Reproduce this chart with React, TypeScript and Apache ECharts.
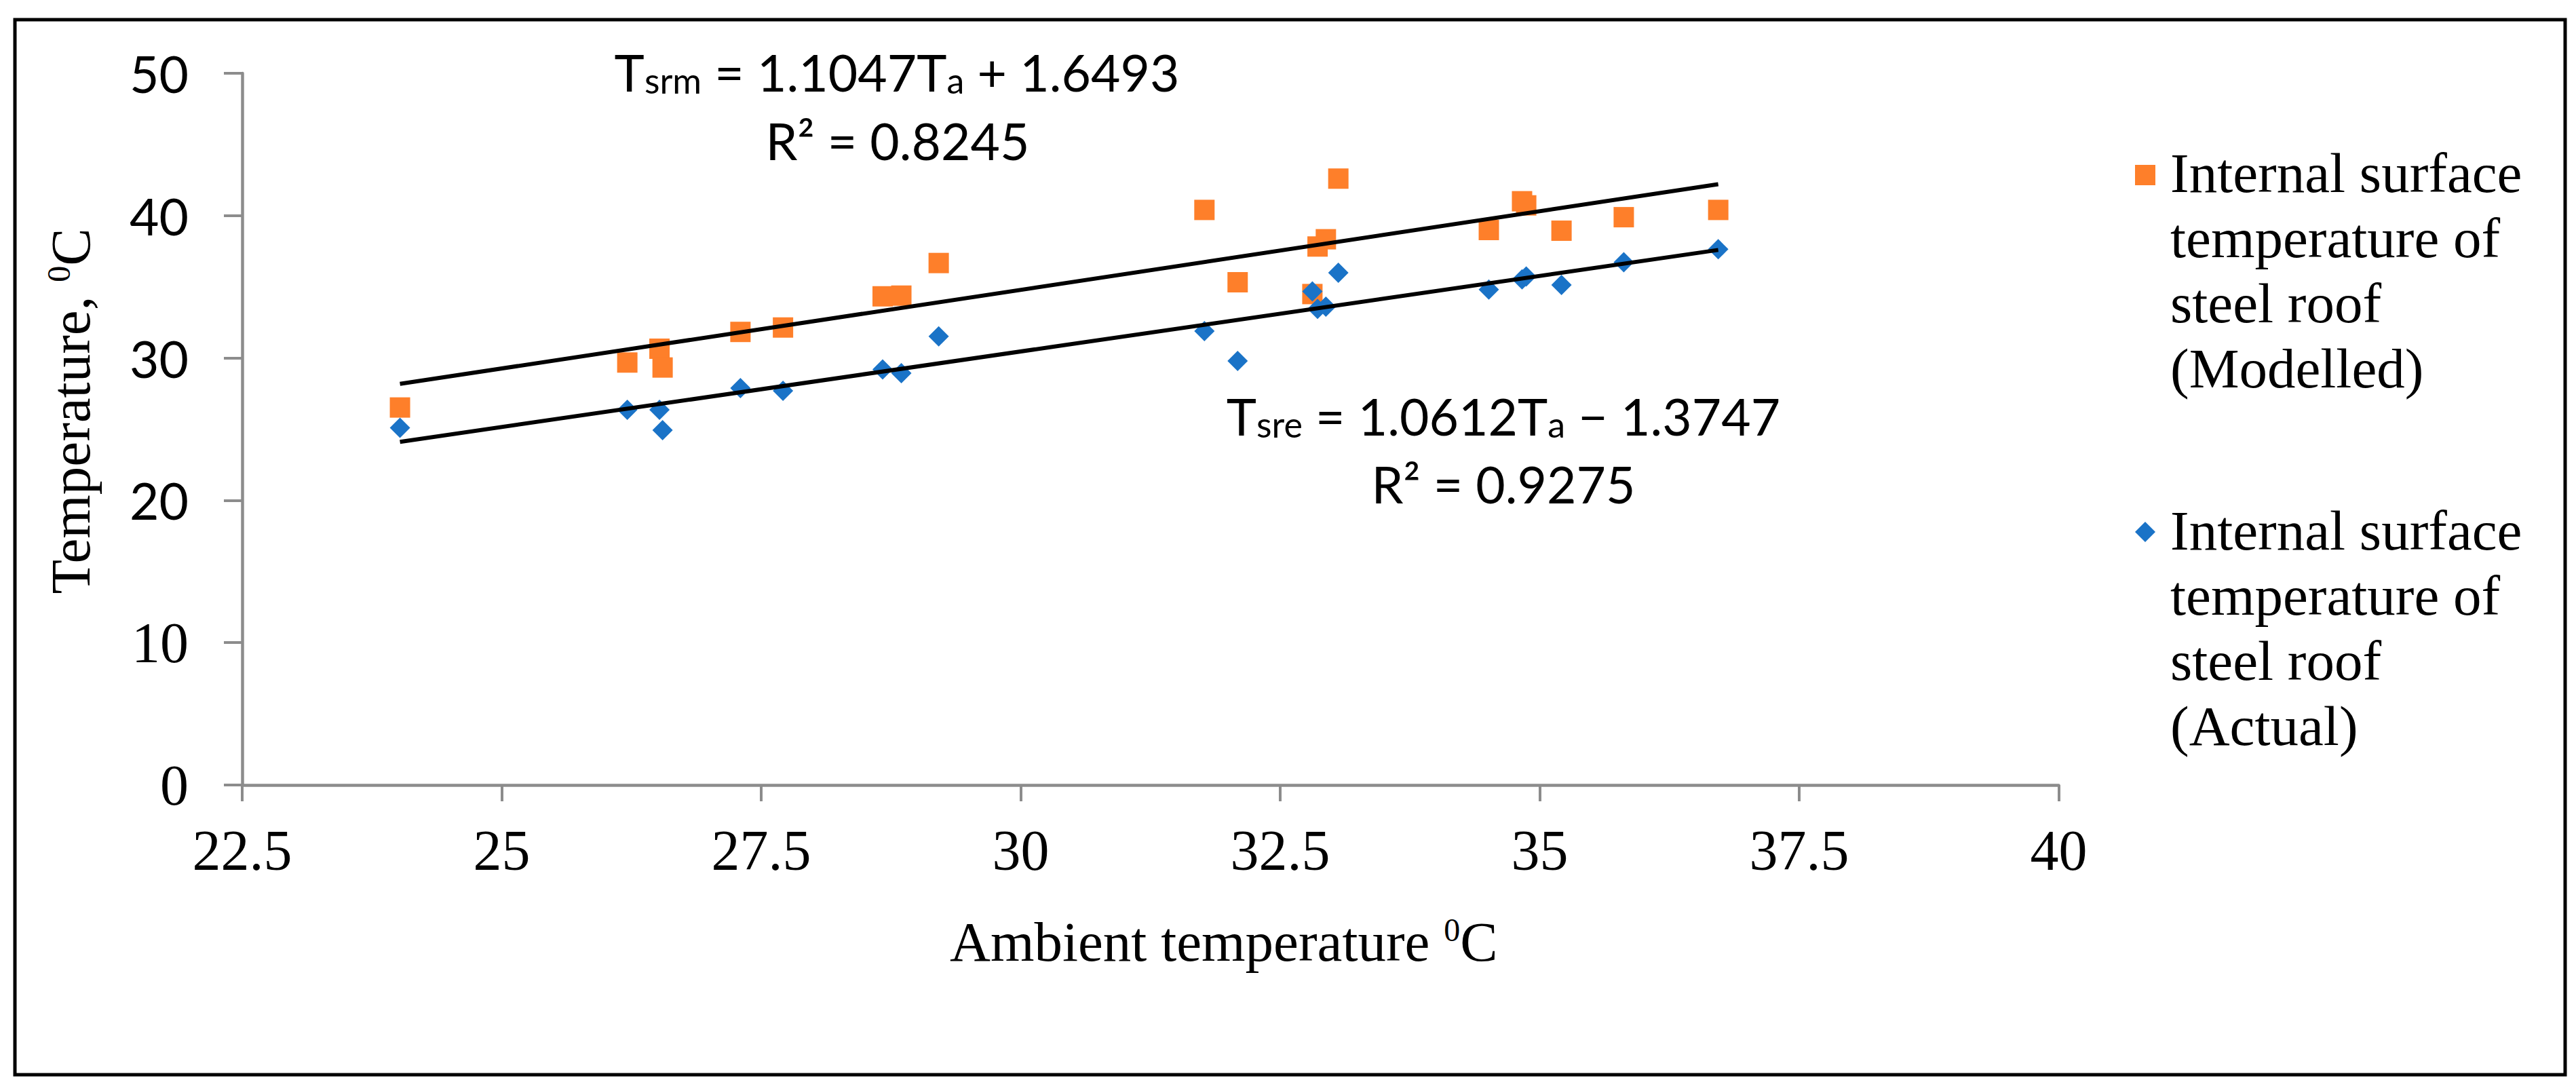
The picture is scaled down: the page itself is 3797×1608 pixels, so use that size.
import React, { useEffect, useRef } from "react";
import * as echarts from "echarts";

// Ambient temperature (x) shared by both series
const ambient = [
  24.02, 26.21, 26.52, 26.55, 27.3, 27.71, 28.67, 28.85, 29.21, 31.77, 32.09,
  32.81, 32.86, 32.94, 33.06, 34.51, 34.83, 34.87, 35.21, 35.81, 36.72,
];
// Internal surface temperature of steel roof (Modelled)
const modelled = [
  26.52, 29.68, 30.65, 29.33, 31.83, 32.14, 34.33, 34.38, 36.67, 40.4, 35.32,
  34.49, 37.83, 38.34, 42.6, 38.99, 41.01, 40.72, 38.94, 39.89, 40.4,
];
// Internal surface temperature of steel roof (Actual)
const actual = [
  25.09, 26.36, 26.36, 24.93, 27.88, 27.69, 29.2, 28.93, 31.52, 31.89, 29.79,
  34.68, 33.45, 33.6, 35.99, 34.81, 35.52, 35.73, 35.13, 36.72, 37.64,
];
// Linear trend line end points
const trendModelled = [
  [24.02, 28.18],
  [36.72, 42.21],
];
const trendActual = [
  [24.02, 24.11],
  [36.72, 37.59],
];
const legendModelled = ["Internal surface", "temperature of", "steel roof", "(Modelled)"];
const legendActual = ["Internal surface", "temperature of", "steel roof", "(Actual)"];

const ORANGE = "#FE7F2A";
const BLUE = "#1A73C7";
const AXIS = "#8C8C8C";
const SERIF = "'Liberation Serif', 'Times New Roman', serif";
const SANS = "Lato, 'Liberation Sans', sans-serif";

const W = 3797;
const H = 1608;

export default function App() {
  const ref = useRef<HTMLDivElement>(null);

  useEffect(() => {
    if (!ref.current) return;
    const chart = echarts.init(ref.current, null, { renderer: "svg" });

    const eqRich = {
      m: { fontSize: 75, fontFamily: SANS, lineHeight: 84, color: "#000" },
      sub: {
        fontSize: 52,
        fontFamily: SANS,
        lineHeight: 24,
        verticalAlign: "bottom",
        color: "#000",
      },
    };

    const eqText = (text: string, x: number, y: number) => ({
      type: "text",
      x,
      y,
      style: {
        text,
        align: "center",
        verticalAlign: "middle",
        fontSize: 75,
        fontFamily: SANS,
        fill: "#000",
        rich: eqRich,
      },
      z: 10,
    });

    const titleRich = {
      m: { fontSize: 83, fontFamily: SERIF, lineHeight: 84, color: "#000" },
      sup: { fontSize: 48, fontFamily: SERIF, lineHeight: 48, verticalAlign: "top", color: "#000" },
    };

    const option: any = {
      animation: false,
      backgroundColor: "#fff",
      grid: {
        left: 357,
        top: 108,
        right: W - 3034.5,
        bottom: H - 1157,
        outerBoundsMode: "none",
      },
      xAxis: {
        type: "value",
        min: 22.5,
        max: 40,
        interval: 2.5,
        splitLine: { show: false },
        axisLine: { show: true, lineStyle: { color: AXIS, width: 4.5 } },
        axisTick: { show: true, length: 24, lineStyle: { color: AXIS, width: 4 } },
        axisLabel: {
          margin: 54,
          fontSize: 84,
          fontFamily: SERIF,
          color: "#000",
        },
        name: "{m|Ambient temperature }{sup|0}{m|C}",
        nameLocation: "middle",
        nameGap: 189,
        nameTextStyle: {
          fontSize: 83,
          fontFamily: SERIF,
          color: "#000",
          padding: [0, 0, 0, 216],
          rich: titleRich,
        },
      },
      yAxis: {
        type: "value",
        min: 0,
        max: 50,
        interval: 10,
        splitLine: { show: false },
        axisLine: { show: true, lineStyle: { color: AXIS, width: 4.5 } },
        axisTick: { show: true, length: 27, lineStyle: { color: AXIS, width: 4 } },
        axisLabel: {
          margin: 79,
          color: "#000",
          formatter: (v: number) => (v >= 20 ? `{s|${v}}` : `{r|${v}}`),
          rich: {
            s: { fontSize: 75, fontFamily: SANS, color: "#000" },
            r: { fontSize: 84, fontFamily: SERIF, color: "#000" },
          },
        },
        name: "{m|Temperature, }{sup|0}{m|C}",
        nameLocation: "middle",
        nameGap: 211,
        nameTextStyle: {
          fontSize: 83,
          fontFamily: SERIF,
          color: "#000",
          padding: [0, 0, 0, 53],
          rich: titleRich,
        },
      },
      series: [
        {
          name: "Internal surface temperature of steel roof (Modelled)",
          type: "scatter",
          symbol: "rect",
          symbolSize: 30,
          itemStyle: { color: ORANGE, opacity: 1 },
          data: ambient.map((x, i) => [x, modelled[i]]),
        },
        {
          name: "Internal surface temperature of steel roof (Actual)",
          type: "scatter",
          symbol: "diamond",
          symbolSize: 30,
          itemStyle: { color: BLUE, opacity: 1 },
          data: ambient.map((x, i) => [x, actual[i]]),
        },
        {
          name: "Trend (Modelled)",
          type: "line",
          symbol: "none",
          lineStyle: { color: "#000", width: 6 },
          data: trendModelled,
          z: 3,
        },
        {
          name: "Trend (Actual)",
          type: "line",
          symbol: "none",
          lineStyle: { color: "#000", width: 6 },
          data: trendActual,
          z: 3,
        },
      ],
      graphic: [
        {
          type: "rect",
          shape: { x: 22, y: 29, width: 3759, height: 1555 },
          style: { fill: "none", stroke: "#000", lineWidth: 5 },
          silent: true,
        },
        eqText("T{sub|srm} = 1.1047T{sub|a} + 1.6493", 1322, 106),
        eqText("R² = 0.8245", 1323, 207),
        eqText("T{sub|sre} = 1.0612T{sub|a} − 1.3747", 2216, 613),
        eqText("R² = 0.9275", 2216, 713),
        {
          type: "rect",
          shape: { x: 3147, y: 243, width: 30, height: 30 },
          style: { fill: ORANGE },
        },
        {
          type: "text",
          x: 3199,
          y: 207,
          style: {
            text: legendModelled.join("\n"),
            align: "left",
            verticalAlign: "top",
            fontSize: 83,
            lineHeight: 96,
            fontFamily: SERIF,
            fill: "#000",
          },
        },
        {
          type: "polygon",
          shape: {
            points: [
              [3162, 769],
              [3177, 784],
              [3162, 799],
              [3147, 784],
            ],
          },
          style: { fill: BLUE },
        },
        {
          type: "text",
          x: 3199,
          y: 734,
          style: {
            text: legendActual.join("\n"),
            align: "left",
            verticalAlign: "top",
            fontSize: 83,
            lineHeight: 96,
            fontFamily: SERIF,
            fill: "#000",
          },
        },
      ],
    };

    chart.setOption(option);
    return () => chart.dispose();
  }, []);

  return (
    <div
      ref={ref}
      style={{ position: "fixed", left: 0, top: 0, width: W, height: H, background: "#fff" }}
    />
  );
}
